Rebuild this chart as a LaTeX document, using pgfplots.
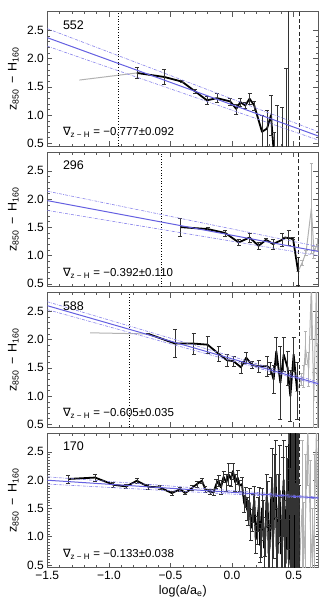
\documentclass[border=0pt]{standalone}
\usepackage{fontspec}
\setmainfont{Liberation Sans}
\newfontfamily\dvfont{DejaVu Sans}
\usepackage{pgfplots}
\pgfplotsset{compat=1.18}
\definecolor{fitblue}{RGB}{100,95,225}
\definecolor{bandblue}{RGB}{135,130,235}

\pgfplotsset{
  panel/.style={
    scale only axis, width=271pt, height=134.5pt,
    xmin=-1.5, xmax=0.7, ymin=0.45, ymax=2.83,
    xtick={-1.5,-1,-0.5,0,0.5}, xticklabels={},
    ytick={0.5,1,1.5,2,2.5}, yticklabels={0.5,1.0,1.5,2.0,2.5},
    minor x tick num=4, minor y tick num=4,
    tick align=inside, major tick length=5pt, minor tick length=2.5pt,
    axis line style={black!65, line width=0.6pt},
    every tick/.append style={black!65, line width=0.5pt},
    tick label style={font=\fontsize{12}{14}\selectfont},
    ylabel={z\textsubscript{850}\, − \,H\textsubscript{160}},
    every axis y label/.style={at={(axis description cs:0,0.5)}, xshift=-34pt,
      rotate=90, anchor=center, font=\fontsize{12.5}{14}\selectfont},
  },
  dat/.style={black, line width=1.8pt, mark=none, line join=round,
    error bars/y dir=both, error bars/y explicit,
    error bars/error mark=|,
    error bars/error bar style={black!80, line width=0.6pt},
    error bars/error mark options={black!80, line width=0.6pt, mark size=2pt}},
  grey/.style={black!30, line width=1pt, mark=none,
    error bars/y dir=both, error bars/y explicit,
    error bars/error mark=|,
    error bars/error bar style={black!30, line width=1pt},
    error bars/error mark options={black!30, line width=0.6pt, mark size=1.8pt}},
  fit/.style={fitblue, line width=1pt},
  band/.style={bandblue, line width=0.6pt, dash pattern=on 3pt off 1.2pt on 0.6pt off 1.2pt},
  inner/.style={black, dotted, line width=0.7pt},
  outer/.style={black!85, line width=1pt, dash pattern=on 4pt off 2.5pt},
}
\tikzset{
  idlabel/.style={anchor=west, font=\fontsize{12.5}{14}\selectfont},
  gradlabel/.style={anchor=west, font=\fontsize{11.5}{13}\selectfont},
}
\newcommand{\grad}[1]{{\dvfont ∇}\textsubscript{z − H} = #1}

\begin{document}
\begin{tikzpicture}
\path[use as bounding box] (-47.3pt,-44.3pt) rectangle (287.7pt,567.7pt);

% ---- panel 1: 552
\begin{axis}[panel, at={(0pt,421.5pt)}]
\addplot[grey] coordinates {(-1.24,1.62) (-0.773,1.746)};
\addplot[dat] table[x index=0, y index=1, y error index=2] {
-0.773 1.746 0.10
-0.551 1.675 0.13
-0.407 1.593 0.02
-0.299 1.418 0.04
-0.204 1.262 0.07
-0.123 1.300 0.08
-0.015 1.242 0.06
0.034 1.110 0.09
0.067 1.230 0.07
0.107 1.170 0.05
0.142 1.290 0.10
0.180 1.170 0.08
0.243 0.705 0.30
0.284 0.763 0.32
0.316 1.000 0.35
0.343 0.200 0.50
0.365 0.100 1.07
0.406 0.100 1.04
0.440 0.100 1.72
0.460 0.000 3.00
};
\addplot[inner] coordinates {(-0.923,0.45) (-0.923,2.83)};
\addplot[outer] coordinates {(0.546,0.45) (0.546,2.83)};
\addplot[band] coordinates {(-1.5,2.53) (0.7,0.705)};
\addplot[band] coordinates {(-1.5,2.22) (0.7,0.558)};
\addplot[fit] coordinates {(-1.5,2.37) (0.7,0.63)};
\node[idlabel] at (axis description cs:0.045,0.90) {552};
\node[gradlabel] at (axis description cs:0.045,0.10) {\grad{−0.777±0.092}};
\end{axis}

% ---- panel 2: 296
\begin{axis}[panel, at={(0pt,281pt)}]
\addplot[grey] table[x index=0, y index=1, y error index=2] {
0.536 0.720 0.00
0.568 0.870 0.05
0.600 1.050 0.05
0.644 1.840 0.80
0.665 1.060 0.10
0.690 1.200 0.10
0.700 1.100 0.10
};
\addplot[dat] table[x index=0, y index=1, y error index=2] {
-0.421 1.505 0.16
-0.199 1.470 0.03
-0.055 1.400 0.05
0.053 1.234 0.06
0.142 1.320 0.08
0.215 1.173 0.06
0.276 1.280 0.03
0.333 1.204 0.09
0.406 1.280 0.12
0.430 1.320 0.00
0.459 1.310 0.13
0.495 1.300 0.02
0.536 0.720 0.25
};
\addplot[inner] coordinates {(-0.576,0.45) (-0.576,2.83)};
\addplot[outer] coordinates {(0.536,0.45) (0.536,2.83)};
\addplot[band] coordinates {(-1.5,2.14) (0.7,1.16)};
\addplot[band] coordinates {(-1.5,1.80) (0.7,1.00)};
\addplot[fit] coordinates {(-1.5,1.973) (0.7,1.074)};
\node[idlabel] at (axis description cs:0.045,0.90) {296};
\node[gradlabel] at (axis description cs:0.045,0.10) {\grad{−0.392±0.110}};
\end{axis}

% ---- panel 3: 588
\begin{axis}[panel, at={(0pt,140.5pt)}]
\addplot[grey] coordinates {(-1.153,2.12) (-0.679,2.10)};
\addplot[grey] table[x index=0, y index=1, y error index=2] {
0.528 1.090 0.00
0.560 1.300 0.10
0.581 1.350 0.20
0.595 1.855 0.30
0.622 1.470 0.30
0.644 3.000 1.00
0.663 0.913 0.50
0.685 3.000 1.00
0.695 0.440 1.50
};
\addplot[dat] table[x index=0, y index=1, y error index=2] {
-0.679 2.100 0.01
-0.462 1.930 0.245
-0.313 1.930 0.19
-0.199 1.910 0.15
-0.110 1.750 0.13
-0.042 1.636 0.10
0.012 1.618 0.09
0.072 1.510 0.10
0.115 1.680 0.10
0.162 1.550 0.06
0.215 1.530 0.10
0.284 1.530 0.18
0.311 1.490 0.10
0.337 1.295 0.25
0.359 1.795 0.25
0.392 1.237 0.65
0.419 1.736 0.30
0.451 1.500 0.30
0.473 1.000 0.45
0.500 1.736 0.30
0.528 1.090 0.50
};
\addplot[inner] coordinates {(-0.833,0.45) (-0.833,2.83)};
\addplot[outer] coordinates {(0.546,0.45) (0.546,2.83)};
\addplot[band] coordinates {(-1.5,2.67) (0.7,1.25)};
\addplot[band] coordinates {(-1.5,2.53) (0.7,1.20)};
\addplot[fit] coordinates {(-1.5,2.60) (0.7,1.22)};
\node[idlabel] at (axis description cs:0.045,0.90) {588};
\node[gradlabel] at (axis description cs:0.045,0.10) {\grad{−0.605±0.035}};
\end{axis}

% ---- panel 4: 170
\begin{axis}[panel, at={(0pt,0pt)}, minor y tick num=9,
  xticklabels={−1.5,−1.0,−0.5,0.0,0.5},
  xlabel={log(a/a\textsubscript{e})},
  every axis x label/.style={at={(axis description cs:0.5,0)}, yshift=-24pt,
    anchor=center, font=\fontsize{12.5}{14}\selectfont}]
\addplot[grey] table[x index=0, y index=1, y error index=2] {
0.546 0.400 0.00
0.568 1.500 1.20
0.582 0.600 1.00
0.595 1.250 1.20
0.615 2.900 1.00
0.636 1.150 1.20
0.652 0.500 1.00
0.668 1.250 1.20
0.685 2.900 1.00
0.698 1.100 1.60
};
\addplot[dat] table[x index=0, y index=1, y error index=2] {
-1.329 2.020 0.07
-1.112 2.045 0.06
-0.963 1.918 0.04
-0.860 1.888 0.04
-0.773 1.988 0.05
-0.679 1.883 0.04
-0.584 1.870 0.04
-0.489 1.770 0.04
-0.421 1.840 0.04
-0.380 1.770 0.03
-0.326 1.860 0.04
-0.285 1.930 0.05
-0.245 1.990 0.05
-0.218 1.840 0.05
-0.177 1.790 0.05
-0.150 1.783 0.06
-0.128 1.930 0.08
-0.110 1.987 0.10
-0.090 1.870 0.12
-0.069 2.058 0.10
-0.047 1.958 0.15
-0.028 2.100 0.20
-0.009 2.016 0.12
0.007 2.160 0.14
0.026 1.958 0.15
0.045 2.045 0.12
0.061 1.900 0.10
0.080 1.930 0.12
0.099 1.580 0.15
0.110 1.700 0.18
0.121 1.490 0.20
0.132 1.420 0.22
0.142 1.608 0.25
0.152 1.150 0.22
0.162 1.288 0.20
0.172 1.500 0.25
0.181 1.638 0.25
0.192 0.950 0.25
0.202 1.113 0.25
0.210 1.400 0.30
0.219 1.580 0.30
0.227 0.850 0.30
0.235 0.939 0.30
0.243 1.500 0.35
0.251 1.288 0.35
0.260 0.800 0.35
0.270 0.997 0.35
0.280 1.700 0.40
0.289 1.580 0.40
0.297 0.700 0.40
0.305 0.822 0.40
0.315 1.600 0.45
0.324 1.870 0.70
0.330 0.900 0.45
0.337 1.113 0.50
0.346 1.900 0.55
0.354 2.100 0.60
0.362 0.800 0.55
0.370 0.705 0.55
0.378 1.500 0.60
0.386 1.813 0.80
0.396 0.700 0.60
0.406 0.997 0.70
0.412 1.700 0.70
0.419 2.000 0.70
0.427 0.900 0.75
0.435 0.530 0.75
0.443 1.800 0.80
0.451 1.580 0.80
0.459 0.600 1.20
0.463 2.600 1.20
0.467 3.000 1.50
0.470 0.700 1.50
0.474 0.500 1.50
0.477 2.800 1.50
0.481 3.000 1.50
0.484 0.600 1.50
0.488 0.450 1.50
0.491 2.900 1.50
0.495 3.000 1.50
0.498 0.500 1.50
0.501 0.500 1.50
0.504 2.900 1.50
0.508 3.000 1.50
0.511 0.400 1.50
0.515 0.450 1.50
0.518 2.900 1.50
0.522 3.000 1.50
0.525 0.500 1.50
0.529 0.500 1.50
0.532 2.900 1.50
0.536 3.000 1.50
0.539 0.450 1.50
0.543 0.400 1.50
};
\addplot[outer] coordinates {(0.546,0.45) (0.546,2.83)};
\addplot[band] coordinates {(-1.5,2.058) (0.7,1.700)};
\addplot[band] coordinates {(-1.5,1.930) (0.7,1.670)};
\addplot[fit] coordinates {(-1.5,1.998) (0.7,1.684)};
\node[idlabel] at (axis description cs:0.045,0.90) {170};
\node[gradlabel] at (axis description cs:0.045,0.10) {\grad{−0.133±0.038}};
\end{axis}
\end{tikzpicture}
\end{document}
